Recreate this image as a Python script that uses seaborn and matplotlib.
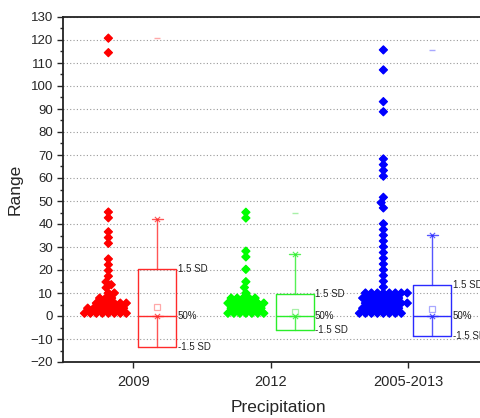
import numpy as np
import pandas as pd
import seaborn as sns
import matplotlib.pyplot as plt
import matplotlib.patheffects as pe
from matplotlib.ticker import MultipleLocator

sns.set_style("ticks")
plt.rcParams["font.family"] = ["Liberation Sans", "DejaVu Sans"]

groups = ["2009", "2012", "2005-2013"]
point_colors = ["#ff0000", "#00ff00", "#0000ff"]
box_colors = ["#ff2a2a", "#2aee2a", "#2a2aff"]
max_colors = ["#ffa8a8", "#a8f0a8", "#a8a8ff"]

# single points above the dense part (read one by one)
red_upper = [120.8, 114.5, 45.2, 42.7, 36.6, 34.1, 31.6, 24.8, 22.3, 19.8,
             17.3, 14.8, 13.6, 12.3]
green_upper = [45.1, 42.6, 28.2, 25.7, 20.3, 14.9, 12.4]
blue_upper = [115.7, 107.0, 93.2, 88.8, 68.3, 65.8, 63.3, 60.8,
              51.6, 49.3, 47.0, 40.1, 37.6, 35.1, 32.6, 30.1, 27.6, 25.1,
              22.6, 20.1, 17.6, 15.1, 12.6]

# dense part near zero: value levels and how many points sit there
red_low = [1.2, 3.4, 5.6, 7.8, 10.0]
red_low_n = [8, 7, 6, 3, 2]
green_low = [1.2, 3.4, 5.6, 7.8, 10.0]
green_low_n = [7, 6, 7, 5, 1]
blue_low = [1.2, 3.4, 5.6, 7.8, 10.0]
blue_low_n = [8, 7, 8, 7, 8]

# box chart statistics (box = +/-1.5 SD, line = 50%)
box_top = [20.3, 9.4, 13.5]
box_bottom = [-13.3, -6.1, -8.7]
medians = [0.0, 0.0, 0.0]
means = [3.8, 1.9, 2.9]
whisk_hi = [42.2, 26.8, 35.2]
whisk_lo = [0.0, 0.0, 0.0]
maxima = [120.8, 44.6, 115.7]

uppers = [red_upper, green_upper, blue_upper]
lows = [red_low, green_low, blue_low]
low_ns = [red_low_n, green_low_n, blue_low_n]

frames = []
for i, g in enumerate(groups):
    vals = list(uppers[i]) + list(np.repeat(lows[i], low_ns[i]))
    frames.append(pd.DataFrame({"group": g, "pos": i + 1 - 0.18, "Range": vals}))
df = pd.concat(frames, ignore_index=True)

fig = plt.figure(figsize=(4.81, 4.18), dpi=100)
ax = fig.add_axes([63 / 481, 56 / 418, 430 / 481, 345 / 418])

# data overlay (stroke makes the diamonds chunkier without changing the swarm spacing)
for g, c in zip(groups, point_colors):
    sns.swarmplot(data=df[df["group"] == g], x="pos", y="Range", native_scale=True,
                  orient="x", color=c, marker="D", size=4.1, linewidth=0,
                  ax=ax, zorder=3)
    ax.collections[-1].set_path_effects([pe.Stroke(linewidth=0.9, foreground=c), pe.Normal()])

# box charts
bw = 0.276
for i in range(3):
    c = box_colors[i]
    pos = i + 1 + 0.175
    stats = [dict(med=medians[i], q1=box_bottom[i], q3=box_top[i],
                  whislo=whisk_lo[i], whishi=whisk_hi[i], mean=means[i],
                  fliers=[maxima[i]])]
    ax.bxp(stats, positions=[pos], widths=bw, capwidths=0.08, showmeans=True,
           manage_ticks=False,
           boxprops=dict(color=c, lw=1),
           medianprops=dict(color=c, lw=1),
           whiskerprops=dict(color=c, lw=1, alpha=0.8),
           capprops=dict(color=c, lw=1, alpha=0.8),
           meanprops=dict(marker="s", markerfacecolor="none", markeredgecolor=max_colors[i],
                          markersize=4, markeredgewidth=0.9),
           flierprops=dict(marker="_", markeredgecolor=max_colors[i], markersize=4,
                           markeredgewidth=1))
    ax.scatter([pos, pos], [whisk_hi[i], whisk_lo[i]], marker="x", s=14,
               color=c, linewidths=0.8, alpha=0.8, zorder=4)
    xr = pos + bw / 2 + 0.01
    ax.text(xr, box_top[i], "1.5 SD", fontsize=7, va="center", ha="left", color="#222222")
    ax.text(xr, medians[i], "50%", fontsize=7, va="center", ha="left", color="#222222")
    ax.text(xr, box_bottom[i], "-1.5 SD", fontsize=7, va="center", ha="left", color="#222222")

ax.set_xlim(0.49, 0.49 + 430 / 137.5)
ax.set_ylim(-20, 130)
ax.set_xticks([1, 2, 3])
ax.set_xticklabels(groups, fontsize=10.5)
ax.yaxis.set_major_locator(MultipleLocator(10))
ax.yaxis.set_minor_locator(MultipleLocator(5))
ax.tick_params(axis="y", which="major", labelsize=9.5, length=4, width=1, direction="out", pad=3)
ax.tick_params(axis="y", which="minor", length=2, width=1, direction="out")
ax.tick_params(axis="x", which="major", length=4, width=1, direction="out", pad=5)
ax.yaxis.grid(True, which="major", linestyle=(0, (1, 2)), color="#999999", lw=0.8)
ax.set_axisbelow(True)

for side in ["left", "bottom", "top"]:
    ax.spines[side].set_visible(True)
    ax.spines[side].set_color("#222222")
    ax.spines[side].set_linewidth(1.3)
ax.spines["right"].set_visible(False)

ax.set_xlabel("Precipitation", fontsize=12.5, labelpad=8)
ax.set_ylabel("Range", fontsize=12.5, labelpad=6)

fig.savefig("out.png", dpi=100)
